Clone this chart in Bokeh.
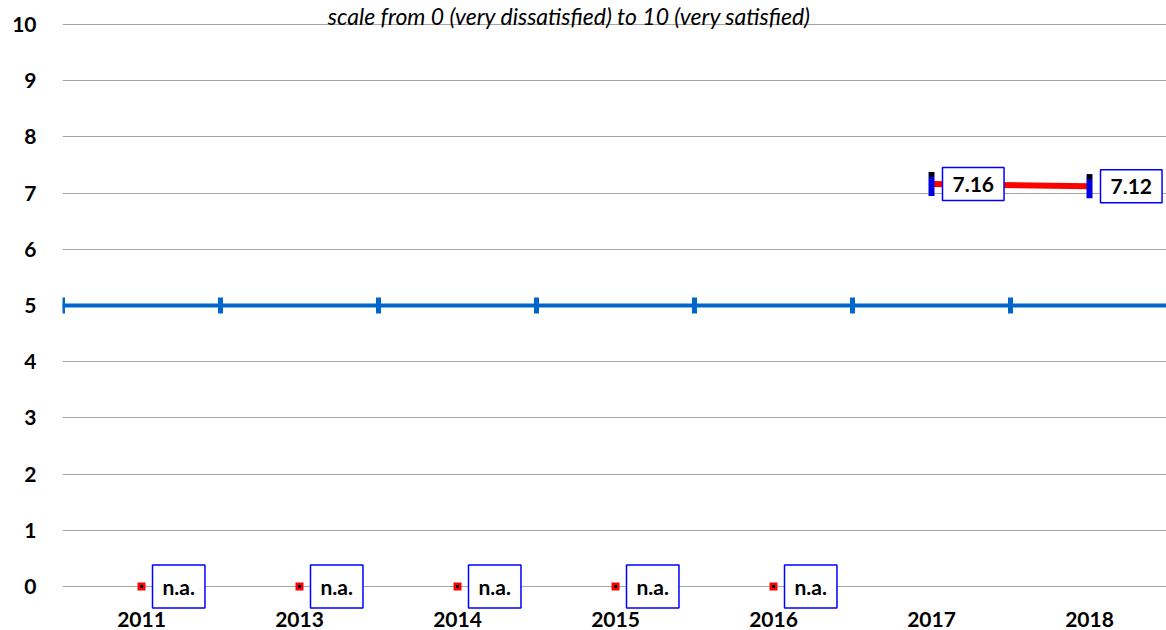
from bokeh.plotting import figure
from bokeh.models import Range1d, FixedTicker, Label
from bokeh.core.properties import value
from bokeh.embed import file_html
from bokeh.resources import INLINE

# ---- data ----
years = ["2011", "2013", "2014", "2015", "2016", "2017", "2018"]
scores = [None, None, None, None, None, 7.16, 7.12]
benchmark = 5
y_ticks = [0, 1, 2, 3, 4, 5, 6, 7, 8, 9, 10]
title_text = "scale from 0 (very dissatisfied) to 10 (very satisfied)"

FONT = "Lato"
BLUE = "#0066CC"
BOX_BLUE = "#0000FF"
RED = "#FF0000"
GRID = "#A6A6A6"

n = len(years)
xc = [i + 0.5 for i in range(n)]

# layout: canvas 1166x630, frame fills it except the left label column
W, H = 1166, 630
LEFT = 62
ZERO_PX, TEN_PX = 586, 24          # page y of value 0 and value 10
ppu = (ZERO_PX - TEN_PX) / 10.0
y0 = -(H - ZERO_PX) / ppu
y1 = 10 + TEN_PX / ppu
cat_px = 158.0
x1 = (W - LEFT) / cat_px

p = figure(width=W, height=H, output_backend="svg", toolbar_location=None,
           x_range=Range1d(0, x1), y_range=Range1d(y0, y1),
           x_axis_location=None,
           min_border_left=LEFT, min_border_right=0, min_border_top=0,
           min_border_bottom=0)
p.outline_line_color = None
p.background_fill_color = "white"
p.border_fill_color = "white"

# y axis & grid
p.xgrid.visible = False
p.ygrid.ticker = FixedTicker(ticks=y_ticks)
p.ygrid.grid_line_color = GRID
p.ygrid.grid_line_width = 1
p.yaxis.ticker = FixedTicker(ticks=y_ticks)
p.yaxis.major_tick_line_color = None
p.yaxis.minor_tick_line_color = None
p.yaxis.axis_line_color = None
p.yaxis.major_label_text_font = FONT
p.yaxis.major_label_text_font_style = "bold"
p.yaxis.major_label_text_font_size = "21px"
p.yaxis.major_label_text_color = "black"
p.yaxis.major_label_standoff = 20

# category labels along the bottom
lab_y = -(619 - ZERO_PX) / ppu
p.text(x=xc, y=[lab_y] * n, text=years, text_align="center", text_baseline="middle",
       text_font=value(FONT), text_font_style="bold", text_font_size="21px",
       text_color="black")

# benchmark line at 5 with boundary markers
bx = list(range(n + 1))
p.line(x=[0, n], y=[benchmark, benchmark], line_color=BLUE, line_width=4)
p.scatter(x=bx, y=[benchmark] * len(bx), marker="dash", angle=1.5708,
          size=16, line_color=BLUE, line_width=5)

# score line
have = [(x, v) for x, v in zip(xc, scores) if v is not None]
hx = [a for a, b in have]
hy = [b for a, b in have]
p.line(x=hx, y=hy, line_color=RED, line_width=6)
p.rect(x=hx, y=hy, width=6, height=24, width_units="screen", height_units="screen",
       fill_color="#0000E0", line_color=None)
p.rect(x=hx, y=[v + 0.17 for v in hy], width=5, height=5, width_units="screen",
       height_units="screen", fill_color="black", line_color=None)

# n.a. markers
na = [x for x, v in zip(xc, scores) if v is None]
p.scatter(x=na, y=[0] * len(na), marker="square", size=8, fill_color=RED, line_color=None)
p.scatter(x=na, y=[0] * len(na), marker="square", size=3, fill_color="black", line_color=None)

# value labels
for x, v in zip(xc, scores):
    txt = "n.a." if v is None else f"{v:.2f}"
    yy = 0 if v is None else v
    p.add_layout(Label(x=x, y=yy, text=txt, x_offset=11, text_baseline="middle",
                       text_align="left", text_font=FONT, text_font_style="bold",
                       text_font_size="21px", text_color="black",
                       background_fill_color="white", border_line_color=BOX_BLUE,
                       border_line_width=1.5, padding=(10, 9)))

# title (subtitle)
p.add_layout(Label(x=(569 - LEFT) / cat_px, y=(ZERO_PX - 1) / ppu, text=title_text,
                   text_align="center", text_baseline="top", text_font=FONT,
                   text_font_style="italic", text_font_size="23px", text_color="black"))

open("out.html", "w").write(file_html(p, INLINE))
